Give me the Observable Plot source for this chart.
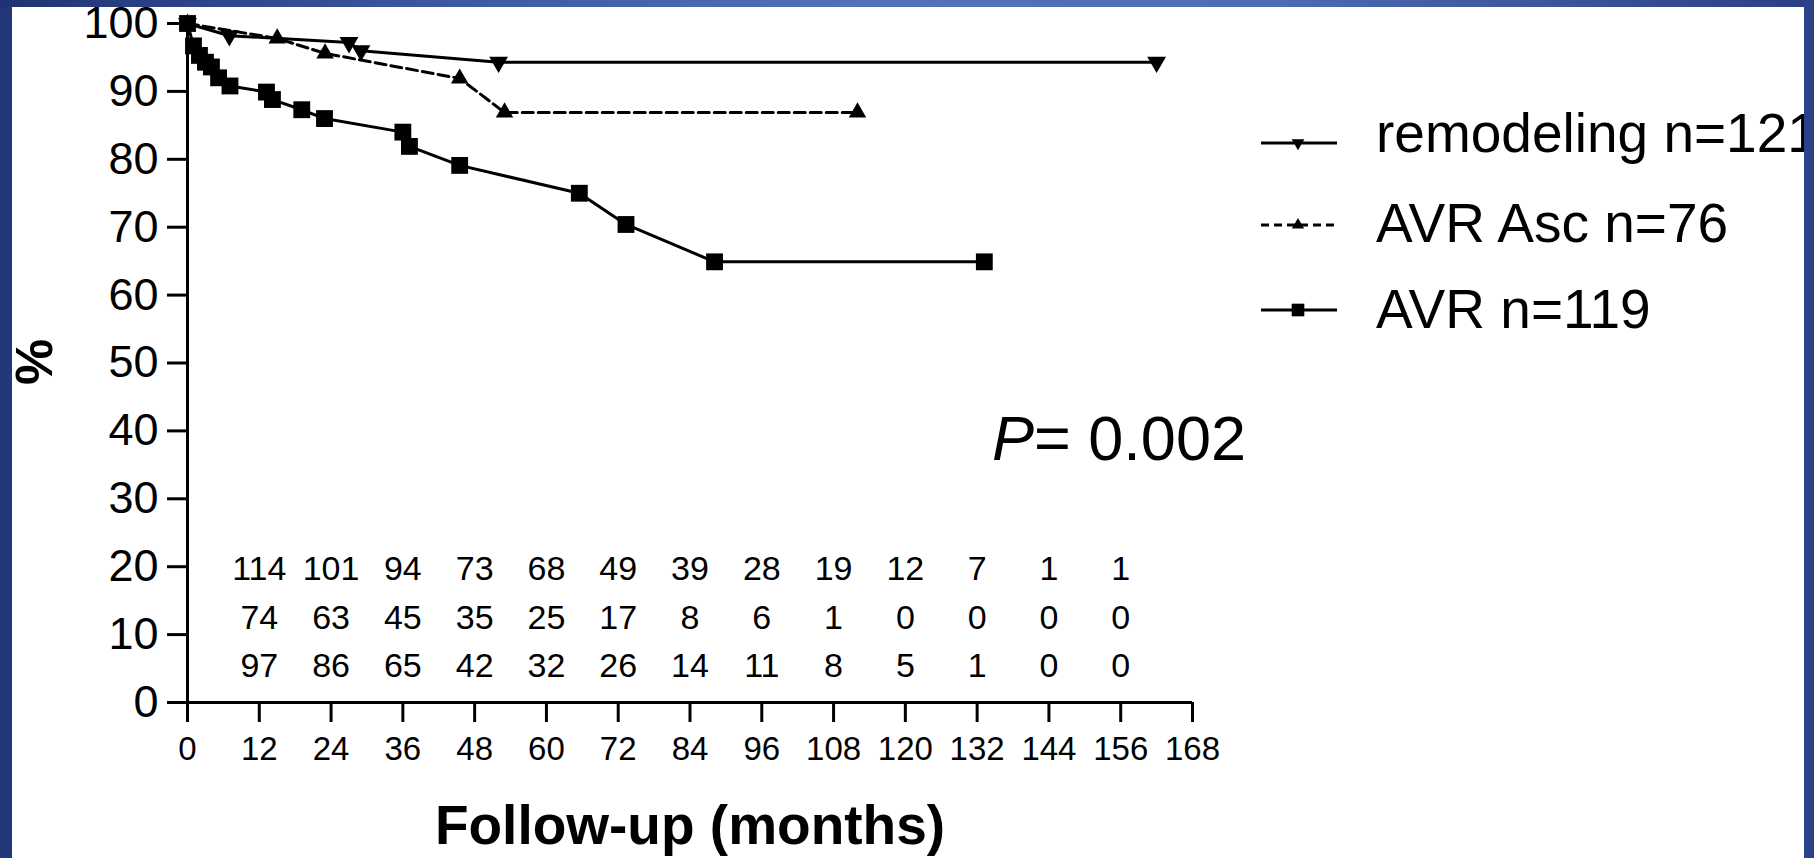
<!DOCTYPE html>
<html>
<head>
<meta charset="utf-8">
<script src="https://cdn.jsdelivr.net/npm/d3@7"></script>
<script src="https://cdn.jsdelivr.net/npm/@observablehq/plot@0.6"></script>
<style>
  html, body { margin: 0; padding: 0; width: 1814px; height: 858px; overflow: hidden; }
  body { position: relative; background: #22367a; font-family: "Liberation Sans", Arial, sans-serif; }
  #topband { position: absolute; left: 0; top: 0; width: 1814px; height: 7px;
    background: linear-gradient(90deg, #1f3373 0%, #3a559e 22%, #5471ba 48%, #4f6cb4 70%, #2a3f84 100%); }
  #white { position: absolute; left: 12px; top: 7px; width: 1792px; height: 851px; background: #fff; }
  #chart { position: absolute; left: 0; top: 0; }
  #overlay { position: absolute; left: 0; top: 0; pointer-events: none; }
  #rightband { position: absolute; left: 1804px; top: 0; width: 10px; height: 858px; background: #2a4287; z-index: 5; }
</style>
</head>
<body>
<div id="topband"></div>
<div id="white"></div>
<div id="chart"></div>
<svg id="overlay" width="1814" height="858"></svg>
<div id="rightband"></div>
<script>
// ---------------- data ----------------
const seriesNames = ["remodeling n=121", "AVR Asc n=76", "AVR n=119"];

const remMonths = [0, 7, 27, 29, 52, 162];
const remSurv   = [100, 98.2, 97.2, 96.0, 94.3, 94.3];

const ascMonths = [0, 15, 23, 45.5, 53, 112];
const ascSurv   = [100, 97.8, 95.6, 91.9, 86.9, 86.9];

const avrMonths = [0, 1, 2, 3, 4, 5.2, 7.1, 13.2, 14.2, 19.1, 22.9, 36, 37.1, 45.5, 65.5, 73.3, 88.1, 133.2];
const avrSurv   = [100, 96.7, 95.3, 94.3, 93.6, 92.0, 90.8, 89.9, 88.8, 87.3, 86.0, 84.0, 81.9, 79.1, 75.0, 70.4, 64.9, 64.9];

const xTicks = [0, 12, 24, 36, 48, 60, 72, 84, 96, 108, 120, 132, 144, 156, 168];
const yTicks = [0, 10, 20, 30, 40, 50, 60, 70, 80, 90, 100];

const riskMonths = [12, 24, 36, 48, 60, 72, 84, 96, 108, 120, 132, 144, 156];
const riskRem = [114, 101, 94, 73, 68, 49, 39, 28, 19, 12, 7, 1, 1];
const riskAsc = [74, 63, 45, 35, 25, 17, 8, 6, 1, 0, 0, 0, 0];
const riskAvr = [97, 86, 65, 42, 32, 26, 14, 11, 8, 5, 1, 0, 0];
const riskRowLevel = [19.6, 12.4, 5.4]; // vertical level (in %) of each at-risk row

const xTitle = "Follow-up (months)";
const yTitle = "%";
const pLabel = "P";
const pValue = "= 0.002";

// ---------------- tables ----------------
const toRows = (ms, ss) => ms.map((m, i) => ({m, s: ss[i]}));
const rem = toRows(remMonths, remSurv);
const asc = toRows(ascMonths, ascSurv);
const avr = toRows(avrMonths, avrSurv);
const risk = [];
[riskRem, riskAsc, riskAvr].forEach((arr, r) =>
  arr.forEach((n, i) => risk.push({m: riskMonths[i], lvl: riskRowLevel[r], n})));

const FONT = "Liberation Sans, Arial, Helvetica, sans-serif";

const plot = Plot.plot({
  width: 1814,
  height: 858,
  marginLeft: 187,
  marginRight: 622,
  marginTop: 23,
  marginBottom: 156,
  style: {background: "transparent", fontFamily: FONT, color: "#000", overflow: "visible"},
  x: {domain: [0, 168]},
  y: {domain: [0, 100]},
  marks: [
    Plot.axisX({ticks: xTicks, tickSize: 20, tickPadding: 14, fontSize: 33, strokeWidth: 3, label: null, tickFormat: d => String(d)}),
    Plot.axisY({ticks: yTicks, tickSize: 20, tickPadding: 9, fontSize: 45, strokeWidth: 3, label: null, tickFormat: d => String(d)}),
    Plot.ruleX([0], {y1: 0, y2: 100, strokeWidth: 3}),
    Plot.ruleY([0], {x1: 0, x2: 168, strokeWidth: 3}),
    Plot.line(rem, {x: "m", y: "s", stroke: "#000", strokeWidth: 3}),
    Plot.line(asc, {x: "m", y: "s", stroke: "#000", strokeWidth: 3, strokeDasharray: "11,5"}),
    Plot.line(avr, {x: "m", y: "s", stroke: "#000", strokeWidth: 3}),
    Plot.dot(rem, {x: "m", y: "s", symbol: "triangle", rotate: 180, r: 7, fill: "#000", stroke: "none"}),
    Plot.dot(asc, {x: "m", y: "s", symbol: "triangle", r: 6.5, fill: "#000", stroke: "none"}),
    Plot.dot(avr, {x: "m", y: "s", symbol: "square", r: 9.5, fill: "#000", stroke: "none"}),
    Plot.text(risk, {x: "m", y: "lvl", text: d => String(d.n), fontSize: 34, fill: "#000"}),
    Plot.text([xTitle], {frameAnchor: "bottom", dy: 141, text: d => d, fontSize: 55, fontWeight: "bold", fill: "#000"}),
    Plot.text([yTitle], {frameAnchor: "left", dx: -152, dy: 22, rotate: -90, text: d => d, fontSize: 52, fontWeight: "bold", fill: "#000"})
  ]
});
document.getElementById("chart").appendChild(plot);

// ---------------- legend + P value overlay ----------------
const ov = d3.select("#overlay").style("font-family", FONT);
const legendStyles = [
  {dash: null, sym: d3.symbolTriangle, rot: 180, size: 70, lineY: 143, textY: 152},
  {dash: "8,5", sym: d3.symbolTriangle, rot: 0, size: 65, lineY: 225, textY: 242},
  {dash: null, sym: d3.symbolSquare, rot: 0, size: 160, lineY: 310, textY: 328}
];
seriesNames.forEach((name, i) => {
  const st = legendStyles[i];
  const g = ov.append("g");
  g.append("line").attr("x1", 1261).attr("x2", 1337).attr("y1", st.lineY).attr("y2", st.lineY)
    .attr("stroke", "#000").attr("stroke-width", 3).attr("stroke-dasharray", st.dash);
  g.append("path").attr("d", d3.symbol(st.sym, st.size)())
    .attr("transform", `translate(1298,${st.lineY}) rotate(${st.rot})`).attr("fill", "#000");
  g.append("text").attr("x", 1376).attr("y", st.textY).attr("font-size", 55).attr("fill", "#000").text(name);
});
const pt = ov.append("text").attr("x", 992).attr("y", 460).attr("font-size", 63).attr("fill", "#000");
pt.append("tspan").attr("font-style", "italic").text(pLabel);
pt.append("tspan").text(pValue);
</script>
</body>
</html>
